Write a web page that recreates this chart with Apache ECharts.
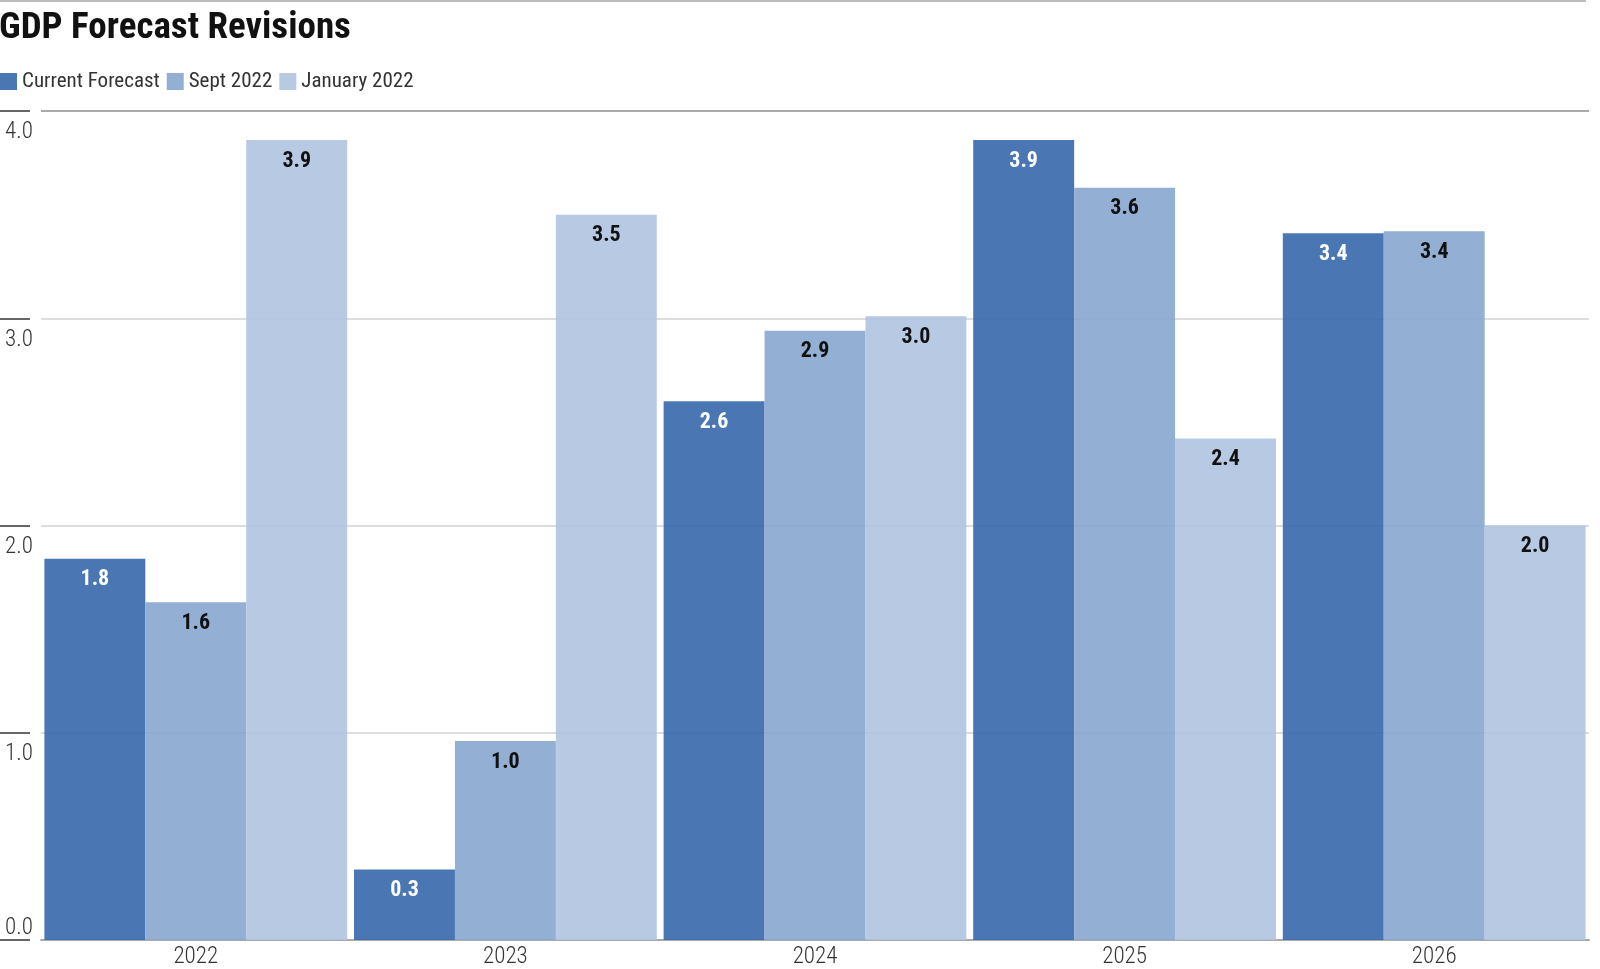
<!DOCTYPE html>
<html>
<head>
<meta charset="utf-8">
<script src="https://cdn.jsdelivr.net/npm/echarts@6/dist/echarts.min.js"></script>
<style>
html,body{margin:0;padding:0;background:#fff;}
#c{width:1600px;height:969px;}
</style>
</head>
<body>
<div id="c"></div>
<script>
const categories = ['2022', '2023', '2024', '2025', '2026'];
const seriesNames = ['Current Forecast', 'Sept 2022', 'January 2022'];
const currentForecast = [1.84, 0.34, 2.60, 3.86, 3.41];
const sept2022 = [1.63, 0.96, 2.94, 3.63, 3.42];
const january2022 = [3.86, 3.50, 3.01, 2.42, 2.00];
const yTicks = [0, 1, 2, 3, 4];

const FONT = "'Roboto Condensed', 'Open Sans Condensed', sans-serif";
const colors = ['rgba(54,104,172,0.9)', 'rgba(136,166,207,0.9)', 'rgba(176,195,224,0.9)'];
const labelColors = ['#ffffff', '#111111', '#111111'];
const dataSets = [currentForecast, sept2022, january2022];

const chart = echarts.init(document.getElementById('c'), null, {renderer: 'canvas'});

const series = dataSets.map((d, i) => ({
  name: seriesNames[i],
  type: 'bar',
  data: d,
  barGap: '0%',
  barCategoryGap: '2.2%',
  itemStyle: {color: colors[i]},
  label: {
    show: true,
    position: 'insideTop',
    distance: 10,
    fontFamily: FONT,
    fontWeight: 'bold',
    fontSize: 22,
    color: labelColors[i],
    formatter: p => p.value.toFixed(1)
  }
}));

chart.setOption({
  animation: false,
  color: colors,
  title: {
    text: 'GDP Forecast Revisions',
    left: -1,
    top: 10,
    padding: 0,
    textStyle: {fontFamily: FONT, fontWeight: 'bold', fontSize: 37, color: '#111'}
  },
  legend: {
    left: 0,
    top: 71,
    padding: 0,
    icon: 'rect',
    itemWidth: 17,
    itemHeight: 17,
    itemGap: 7,
    textStyle: {fontFamily: FONT, fontSize: 21, color: '#333'},
    data: seriesNames
  },
  graphic: [{
    type: 'line',
    shape: {x1: 0, y1: 1, x2: 1586, y2: 1},
    style: {stroke: '#bbbbbb', lineWidth: 2}
  }],
  grid: {left: 41, right: 11, top: 111, bottom: 26, containLabel: false},
  xAxis: {
    type: 'category',
    data: categories,
    axisLine: {show: true, lineStyle: {color: '#aaaaaa', width: 2}},
    axisTick: {show: false},
    axisLabel: {fontFamily: FONT, fontWeight: 300, fontSize: 23, color: '#333', margin: 6}
  },
  yAxis: [{
    type: 'value',
    min: 0,
    max: 4,
    interval: 1,
    offset: 11,
    axisLine: {show: false},
    axisTick: {show: true, length: 30, lineStyle: {color: '#666', width: 2}},
    axisLabel: {
      fontFamily: FONT, fontWeight: 300, fontSize: 23, color: '#333',
      align: 'left', verticalAlign: 'top', margin: 25, padding: [10, 0, 0, 0],
      formatter: v => v === 0 ? '' : v.toFixed(1)
    },
    splitLine: {
      show: true,
      lineStyle: {color: ['#ffffff', '#dddddd', '#dddddd', '#dddddd', '#aaaaaa'], width: 2}
    }
  }, {
    type: 'value',
    min: 0,
    max: 4,
    interval: 1,
    position: 'left',
    offset: 11,
    axisLine: {show: false},
    axisTick: {show: false},
    splitLine: {show: false},
    axisLabel: {
      fontFamily: FONT, fontWeight: 300, fontSize: 23, color: '#333',
      align: 'left', verticalAlign: 'bottom', margin: 25, padding: [0, 0, 0, 0],
      formatter: v => v === 0 ? v.toFixed(1) : ''
    }
  }],
  series: series
});
</script>
</body>
</html>
